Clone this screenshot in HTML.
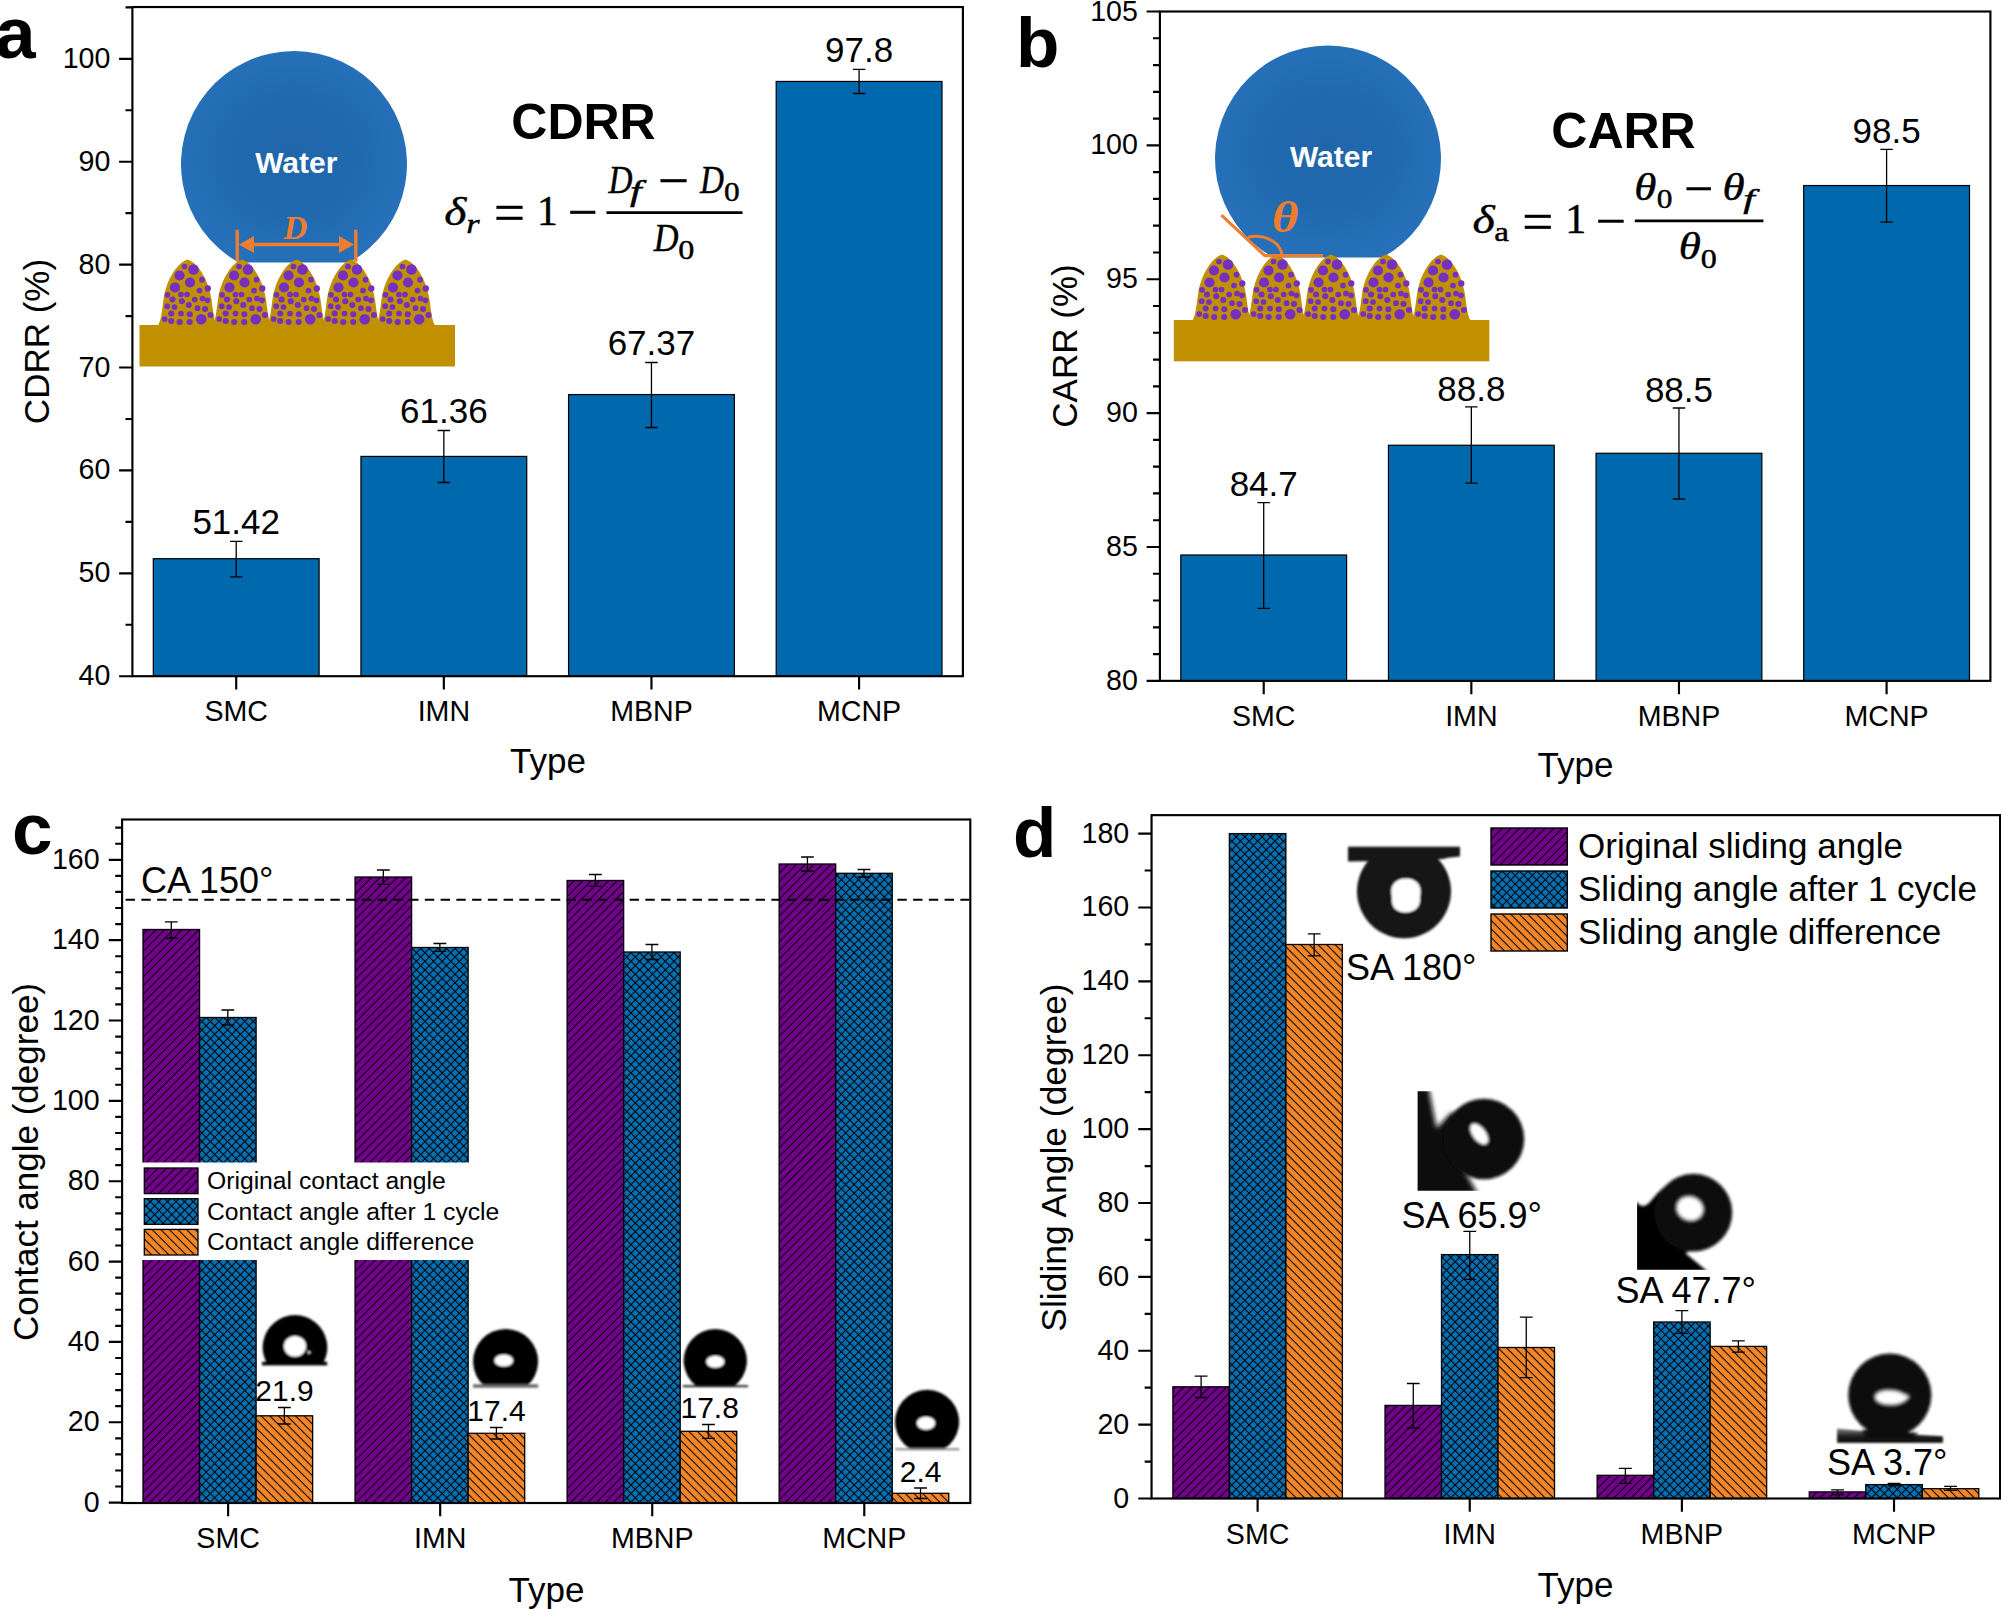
<!DOCTYPE html>
<html lang="en"><head><meta charset="utf-8"><title>Figure</title><style>html,body{margin:0;padding:0;background:#fff}svg{display:block}</style></head><body><svg width="2001" height="1609" viewBox="0 0 2001 1609"><rect width="2001" height="1609" fill="#fff"/><defs>
<pattern id="hp" width="6.07" height="6.07" patternUnits="userSpaceOnUse" patternTransform="rotate(45)"><rect width="6.07" height="6.07" fill="#71018A"/><path d="M3 0V6.07" stroke="#000" stroke-width="1.05"/></pattern>
<pattern id="hb" width="6.07" height="6.07" patternUnits="userSpaceOnUse" patternTransform="rotate(45)"><rect width="6.07" height="6.07" fill="#0471B4"/><path d="M3 0V6.07M0 3H6.07" stroke="#000" stroke-width="1.05"/></pattern>
<pattern id="ho" width="6.07" height="6.07" patternUnits="userSpaceOnUse" patternTransform="rotate(-45)"><rect width="6.07" height="6.07" fill="#F38628"/><path d="M3 0V6.07" stroke="#000" stroke-width="1.05"/></pattern>
<radialGradient id="wg" cx="50%" cy="50%" r="50%"><stop offset="0" stop-color="#1F65AA"/><stop offset="0.6" stop-color="#216AB0"/><stop offset="1" stop-color="#2570B8"/></radialGradient>
<filter id="b1" x="-20%" y="-20%" width="140%" height="140%"><feGaussianBlur stdDeviation="0.8"/></filter>
<filter id="b2" x="-20%" y="-20%" width="140%" height="140%"><feGaussianBlur stdDeviation="1.6"/></filter>
<filter id="b3" x="-20%" y="-20%" width="140%" height="140%"><feGaussianBlur stdDeviation="2.4"/></filter>
</defs>
<g font-family="'Liberation Sans', sans-serif" fill="#000">
<rect x="153.31" y="558.69" width="165.8" height="117.51" fill="#0068AD" stroke="#000" stroke-width="1.2"/>
<rect x="360.94" y="456.41" width="165.8" height="219.79" fill="#0068AD" stroke="#000" stroke-width="1.2"/>
<rect x="568.56" y="394.56" width="165.8" height="281.64" fill="#0068AD" stroke="#000" stroke-width="1.2"/>
<rect x="776.19" y="81.44" width="165.8" height="594.76" fill="#0068AD" stroke="#000" stroke-width="1.2"/>
<path d="M236.21 541.3V576.8M229.96 541.3H242.46M229.96 576.8H242.46" stroke="#000" stroke-width="1.3" fill="none"/>
<path d="M443.84 430.5V482.5M437.59 430.5H450.09M437.59 482.5H450.09" stroke="#000" stroke-width="1.3" fill="none"/>
<path d="M651.46 362.5V427.5M645.21 362.5H657.71M645.21 427.5H657.71" stroke="#000" stroke-width="1.3" fill="none"/>
<path d="M859.09 69.3V93.5M852.84 69.3H865.34M852.84 93.5H865.34" stroke="#000" stroke-width="1.3" fill="none"/>
<text x="236.21" y="534.3" font-size="35" text-anchor="middle">51.42</text>
<text x="443.84" y="423.3" font-size="35" text-anchor="middle">61.36</text>
<text x="651.46" y="355" font-size="35" text-anchor="middle">67.37</text>
<text x="859.09" y="61.5" font-size="35" text-anchor="middle">97.8</text>
<rect x="132.4" y="7.05" width="830.5" height="669.15" fill="none" stroke="#000" stroke-width="2.15"/>
<path d="M119.1 676.2H132.4M119.1 573.3H132.4M119.1 470.4H132.4M119.1 367.5H132.4M119.1 264.6H132.4M119.1 161.7H132.4M119.1 58.8H132.4M125.5 624.75H132.4M125.5 521.85H132.4M125.5 418.95H132.4M125.5 316.05H132.4M125.5 213.15H132.4M125.5 110.25H132.4M125.5 7.35H132.4M236.21 676.2V689.5M443.84 676.2V689.5M651.46 676.2V689.5M859.09 676.2V689.5" stroke="#000" stroke-width="2.15" fill="none"/>
<text x="110.4" y="685.2" font-size="28.6" text-anchor="end">40</text>
<text x="110.4" y="582.3" font-size="28.6" text-anchor="end">50</text>
<text x="110.4" y="479.4" font-size="28.6" text-anchor="end">60</text>
<text x="110.4" y="376.5" font-size="28.6" text-anchor="end">70</text>
<text x="110.4" y="273.6" font-size="28.6" text-anchor="end">80</text>
<text x="110.4" y="170.7" font-size="28.6" text-anchor="end">90</text>
<text x="110.4" y="67.8" font-size="28.6" text-anchor="end">100</text>
<text x="236.21" y="721.2" font-size="28.6" text-anchor="middle">SMC</text>
<text x="443.84" y="721.2" font-size="28.6" text-anchor="middle">IMN</text>
<text x="651.46" y="721.2" font-size="28.6" text-anchor="middle">MBNP</text>
<text x="859.09" y="721.2" font-size="28.6" text-anchor="middle">MCNP</text>
<text x="548" y="772.5" font-size="35" text-anchor="middle">Type</text>
<text transform="translate(48.8 341.5) rotate(-90)" font-size="35" text-anchor="middle">CDRR (%)</text>
<text x="-5" y="58.3" font-size="73" font-weight="bold">a</text>
<text x="583.5" y="138.5" font-size="50" text-anchor="middle" font-weight="bold">CDRR</text>
<path d="M238.62 262.5A113 113 0 1 1 349.38 262.5Z" fill="url(#wg)"/>
<rect x="139.5" y="325" width="315.5" height="41.5" fill="#C09000"/>
<g transform="translate(187.5 259.5)"><path d="M-29.5 66C-26 60 -25.5 50 -24 40C-21.2 20 -10 3 0 0C10 3 21.2 20 24 40C25.5 50 26 60 29.5 66Z" fill="#C09000"/><g fill="#7530C0"><circle cx="-3" cy="7" r="2.85"/><circle cx="6" cy="10" r="5.3"/><circle cx="-8" cy="16" r="5.1"/><circle cx="2.5" cy="23" r="5.1"/><circle cx="14.5" cy="20.2" r="2.85"/><circle cx="-12.5" cy="28" r="5.1"/><circle cx="12" cy="31" r="2.85"/><circle cx="20.3" cy="29" r="3.15"/><circle cx="-20" cy="35.3" r="2.85"/><circle cx="-6.5" cy="35" r="2.85"/><circle cx="-0.5" cy="35" r="2.85"/><circle cx="-15" cy="40" r="3.05"/><circle cx="-5.7" cy="41.7" r="3.05"/><circle cx="7.2" cy="40" r="2.85"/><circle cx="15" cy="39" r="2.85"/><circle cx="20" cy="40.8" r="2.85"/><circle cx="-20.3" cy="46.7" r="2.85"/><circle cx="-13" cy="47.5" r="2.85"/><circle cx="1.3" cy="45.5" r="3.05"/><circle cx="10" cy="48.7" r="2.85"/><circle cx="17.5" cy="49.5" r="3.05"/><circle cx="-16.3" cy="54" r="3.05"/><circle cx="-6.5" cy="54" r="2.85"/><circle cx="2.3" cy="54.7" r="3.05"/><circle cx="23" cy="55.5" r="3.05"/><circle cx="-22.8" cy="59.5" r="2.85"/><circle cx="-16.3" cy="61.5" r="3.05"/><circle cx="-7.8" cy="62.5" r="3.05"/><circle cx="2.2" cy="62.5" r="3.05"/><circle cx="13.7" cy="59.8" r="5.3"/></g></g>
<g transform="translate(242 259.5)"><path d="M-29.5 66C-26 60 -25.5 50 -24 40C-21.2 20 -10 3 0 0C10 3 21.2 20 24 40C25.5 50 26 60 29.5 66Z" fill="#C09000"/><g fill="#7530C0"><circle cx="-3" cy="7" r="2.85"/><circle cx="6" cy="10" r="5.3"/><circle cx="-8" cy="16" r="5.1"/><circle cx="2.5" cy="23" r="5.1"/><circle cx="14.5" cy="20.2" r="2.85"/><circle cx="-12.5" cy="28" r="5.1"/><circle cx="12" cy="31" r="2.85"/><circle cx="20.3" cy="29" r="3.15"/><circle cx="-20" cy="35.3" r="2.85"/><circle cx="-6.5" cy="35" r="2.85"/><circle cx="-0.5" cy="35" r="2.85"/><circle cx="-15" cy="40" r="3.05"/><circle cx="-5.7" cy="41.7" r="3.05"/><circle cx="7.2" cy="40" r="2.85"/><circle cx="15" cy="39" r="2.85"/><circle cx="20" cy="40.8" r="2.85"/><circle cx="-20.3" cy="46.7" r="2.85"/><circle cx="-13" cy="47.5" r="2.85"/><circle cx="1.3" cy="45.5" r="3.05"/><circle cx="10" cy="48.7" r="2.85"/><circle cx="17.5" cy="49.5" r="3.05"/><circle cx="-16.3" cy="54" r="3.05"/><circle cx="-6.5" cy="54" r="2.85"/><circle cx="2.3" cy="54.7" r="3.05"/><circle cx="23" cy="55.5" r="3.05"/><circle cx="-22.8" cy="59.5" r="2.85"/><circle cx="-16.3" cy="61.5" r="3.05"/><circle cx="-7.8" cy="62.5" r="3.05"/><circle cx="2.2" cy="62.5" r="3.05"/><circle cx="13.7" cy="59.8" r="5.3"/></g></g>
<g transform="translate(296.5 259.5)"><path d="M-29.5 66C-26 60 -25.5 50 -24 40C-21.2 20 -10 3 0 0C10 3 21.2 20 24 40C25.5 50 26 60 29.5 66Z" fill="#C09000"/><g fill="#7530C0"><circle cx="-3" cy="7" r="2.85"/><circle cx="6" cy="10" r="5.3"/><circle cx="-8" cy="16" r="5.1"/><circle cx="2.5" cy="23" r="5.1"/><circle cx="14.5" cy="20.2" r="2.85"/><circle cx="-12.5" cy="28" r="5.1"/><circle cx="12" cy="31" r="2.85"/><circle cx="20.3" cy="29" r="3.15"/><circle cx="-20" cy="35.3" r="2.85"/><circle cx="-6.5" cy="35" r="2.85"/><circle cx="-0.5" cy="35" r="2.85"/><circle cx="-15" cy="40" r="3.05"/><circle cx="-5.7" cy="41.7" r="3.05"/><circle cx="7.2" cy="40" r="2.85"/><circle cx="15" cy="39" r="2.85"/><circle cx="20" cy="40.8" r="2.85"/><circle cx="-20.3" cy="46.7" r="2.85"/><circle cx="-13" cy="47.5" r="2.85"/><circle cx="1.3" cy="45.5" r="3.05"/><circle cx="10" cy="48.7" r="2.85"/><circle cx="17.5" cy="49.5" r="3.05"/><circle cx="-16.3" cy="54" r="3.05"/><circle cx="-6.5" cy="54" r="2.85"/><circle cx="2.3" cy="54.7" r="3.05"/><circle cx="23" cy="55.5" r="3.05"/><circle cx="-22.8" cy="59.5" r="2.85"/><circle cx="-16.3" cy="61.5" r="3.05"/><circle cx="-7.8" cy="62.5" r="3.05"/><circle cx="2.2" cy="62.5" r="3.05"/><circle cx="13.7" cy="59.8" r="5.3"/></g></g>
<g transform="translate(351 259.5)"><path d="M-29.5 66C-26 60 -25.5 50 -24 40C-21.2 20 -10 3 0 0C10 3 21.2 20 24 40C25.5 50 26 60 29.5 66Z" fill="#C09000"/><g fill="#7530C0"><circle cx="-3" cy="7" r="2.85"/><circle cx="6" cy="10" r="5.3"/><circle cx="-8" cy="16" r="5.1"/><circle cx="2.5" cy="23" r="5.1"/><circle cx="14.5" cy="20.2" r="2.85"/><circle cx="-12.5" cy="28" r="5.1"/><circle cx="12" cy="31" r="2.85"/><circle cx="20.3" cy="29" r="3.15"/><circle cx="-20" cy="35.3" r="2.85"/><circle cx="-6.5" cy="35" r="2.85"/><circle cx="-0.5" cy="35" r="2.85"/><circle cx="-15" cy="40" r="3.05"/><circle cx="-5.7" cy="41.7" r="3.05"/><circle cx="7.2" cy="40" r="2.85"/><circle cx="15" cy="39" r="2.85"/><circle cx="20" cy="40.8" r="2.85"/><circle cx="-20.3" cy="46.7" r="2.85"/><circle cx="-13" cy="47.5" r="2.85"/><circle cx="1.3" cy="45.5" r="3.05"/><circle cx="10" cy="48.7" r="2.85"/><circle cx="17.5" cy="49.5" r="3.05"/><circle cx="-16.3" cy="54" r="3.05"/><circle cx="-6.5" cy="54" r="2.85"/><circle cx="2.3" cy="54.7" r="3.05"/><circle cx="23" cy="55.5" r="3.05"/><circle cx="-22.8" cy="59.5" r="2.85"/><circle cx="-16.3" cy="61.5" r="3.05"/><circle cx="-7.8" cy="62.5" r="3.05"/><circle cx="2.2" cy="62.5" r="3.05"/><circle cx="13.7" cy="59.8" r="5.3"/></g></g>
<g transform="translate(405.5 259.5)"><path d="M-29.5 66C-26 60 -25.5 50 -24 40C-21.2 20 -10 3 0 0C10 3 21.2 20 24 40C25.5 50 26 60 29.5 66Z" fill="#C09000"/><g fill="#7530C0"><circle cx="-3" cy="7" r="2.85"/><circle cx="6" cy="10" r="5.3"/><circle cx="-8" cy="16" r="5.1"/><circle cx="2.5" cy="23" r="5.1"/><circle cx="14.5" cy="20.2" r="2.85"/><circle cx="-12.5" cy="28" r="5.1"/><circle cx="12" cy="31" r="2.85"/><circle cx="20.3" cy="29" r="3.15"/><circle cx="-20" cy="35.3" r="2.85"/><circle cx="-6.5" cy="35" r="2.85"/><circle cx="-0.5" cy="35" r="2.85"/><circle cx="-15" cy="40" r="3.05"/><circle cx="-5.7" cy="41.7" r="3.05"/><circle cx="7.2" cy="40" r="2.85"/><circle cx="15" cy="39" r="2.85"/><circle cx="20" cy="40.8" r="2.85"/><circle cx="-20.3" cy="46.7" r="2.85"/><circle cx="-13" cy="47.5" r="2.85"/><circle cx="1.3" cy="45.5" r="3.05"/><circle cx="10" cy="48.7" r="2.85"/><circle cx="17.5" cy="49.5" r="3.05"/><circle cx="-16.3" cy="54" r="3.05"/><circle cx="-6.5" cy="54" r="2.85"/><circle cx="2.3" cy="54.7" r="3.05"/><circle cx="23" cy="55.5" r="3.05"/><circle cx="-22.8" cy="59.5" r="2.85"/><circle cx="-16.3" cy="61.5" r="3.05"/><circle cx="-7.8" cy="62.5" r="3.05"/><circle cx="2.2" cy="62.5" r="3.05"/><circle cx="13.7" cy="59.8" r="5.3"/></g></g>
<text x="296.3" y="173" font-size="30" text-anchor="middle" font-weight="bold" fill="#fff">Water</text>
<g stroke="#ED7D31" stroke-width="3.4" fill="none"><path d="M237.2 229.8V261.5M355.8 229.8V261.5M250 244.5H343"/></g>
<path d="M239 244.5L254 236V253ZM354 244.5L339 236V253Z" fill="#ED7D31"/>
<text x="295.5" y="238.5" font-size="33" text-anchor="middle" font-weight="bold" font-family="'Liberation Serif', serif" font-style="italic" fill="#ED7D31">D</text>
</g>
<g fill="#000" stroke="#000" stroke-width="0.45">
<text transform="translate(444.27 224.99) scale(1.156 1)" font-family="'Liberation Serif', serif" font-size="41.13" font-style="italic">δ</text>
<text transform="translate(466.13 232.5) scale(1.240 1)" font-family="'Liberation Serif', serif" font-size="27.66" font-style="italic">r</text>
<text transform="translate(494.06 231.2) scale(1.000 1)" font-family="'Liberation Serif', serif" font-size="54.84">=</text>
<text transform="translate(536.96 225) scale(1.012 1)" font-family="'Liberation Serif', serif" font-size="41.21">1</text>
<text transform="translate(567.54 230.23) scale(1.000 1)" font-family="'Liberation Serif', serif" font-size="53.12">−</text>
<line x1="606.5" y1="212.7" x2="742.5" y2="212.7" stroke="#000" stroke-width="2.7"/>
<text transform="translate(608.43 192.5) scale(0.836 1)" font-family="'Liberation Serif', serif" font-size="39.69" font-style="italic">D</text>
<text transform="translate(629.98 200.73) scale(1.457 1)" font-family="'Liberation Serif', serif" font-size="28.7" font-style="italic">f</text>
<text transform="translate(658.16 198.6) scale(1.000 1)" font-family="'Liberation Serif', serif" font-size="54.84">−</text>
<text transform="translate(699.93 192.5) scale(0.836 1)" font-family="'Liberation Serif', serif" font-size="39.69" font-style="italic">D</text>
<text transform="translate(723.94 200.82) scale(1.122 1)" font-family="'Liberation Serif', serif" font-size="28">0</text>
<text transform="translate(653.84 251.4) scale(0.858 1)" font-family="'Liberation Serif', serif" font-size="40" font-style="italic">D</text>
<text transform="translate(678.21 259.42) scale(1.142 1)" font-family="'Liberation Serif', serif" font-size="28.15">0</text>
</g>
<g font-family="'Liberation Sans', sans-serif" fill="#000">
<rect x="1180.81" y="555.01" width="165.8" height="125.84" fill="#0068AD" stroke="#000" stroke-width="1.2"/>
<rect x="1388.44" y="445.24" width="165.8" height="235.61" fill="#0068AD" stroke="#000" stroke-width="1.2"/>
<rect x="1596.06" y="453.27" width="165.8" height="227.58" fill="#0068AD" stroke="#000" stroke-width="1.2"/>
<rect x="1803.69" y="185.53" width="165.8" height="495.32" fill="#0068AD" stroke="#000" stroke-width="1.2"/>
<path d="M1263.71 502.7V608.4M1257.46 502.7H1269.96M1257.46 608.4H1269.96" stroke="#000" stroke-width="1.3" fill="none"/>
<path d="M1471.34 406.8V483.1M1465.09 406.8H1477.59M1465.09 483.1H1477.59" stroke="#000" stroke-width="1.3" fill="none"/>
<path d="M1678.96 408V499M1672.71 408H1685.21M1672.71 499H1685.21" stroke="#000" stroke-width="1.3" fill="none"/>
<path d="M1886.59 149.3V222.2M1880.34 149.3H1892.84M1880.34 222.2H1892.84" stroke="#000" stroke-width="1.3" fill="none"/>
<text x="1263.71" y="496" font-size="35" text-anchor="middle">84.7</text>
<text x="1471.34" y="400.5" font-size="35" text-anchor="middle">88.8</text>
<text x="1678.96" y="401.5" font-size="35" text-anchor="middle">88.5</text>
<text x="1886.59" y="143" font-size="35" text-anchor="middle">98.5</text>
<rect x="1159.9" y="11.5" width="830.5" height="669.35" fill="none" stroke="#000" stroke-width="2.15"/>
<path d="M1146.6 680.85H1159.9M1146.6 546.98H1159.9M1146.6 413.11H1159.9M1146.6 279.24H1159.9M1146.6 145.37H1159.9M1146.6 11.5H1159.9M1153 654.08H1159.9M1153 627.3H1159.9M1153 600.53H1159.9M1153 573.75H1159.9M1153 520.21H1159.9M1153 493.43H1159.9M1153 466.66H1159.9M1153 439.88H1159.9M1153 386.34H1159.9M1153 359.56H1159.9M1153 332.79H1159.9M1153 306.01H1159.9M1153 252.47H1159.9M1153 225.69H1159.9M1153 198.92H1159.9M1153 172.14H1159.9M1153 118.6H1159.9M1153 91.82H1159.9M1153 65.05H1159.9M1153 38.27H1159.9M1263.71 680.85V694.15M1471.34 680.85V694.15M1678.96 680.85V694.15M1886.59 680.85V694.15" stroke="#000" stroke-width="2.15" fill="none"/>
<text x="1137.9" y="689.85" font-size="28.6" text-anchor="end">80</text>
<text x="1137.9" y="555.98" font-size="28.6" text-anchor="end">85</text>
<text x="1137.9" y="422.11" font-size="28.6" text-anchor="end">90</text>
<text x="1137.9" y="288.24" font-size="28.6" text-anchor="end">95</text>
<text x="1137.9" y="154.37" font-size="28.6" text-anchor="end">100</text>
<text x="1137.9" y="20.5" font-size="28.6" text-anchor="end">105</text>
<text x="1263.71" y="725.85" font-size="28.6" text-anchor="middle">SMC</text>
<text x="1471.34" y="725.85" font-size="28.6" text-anchor="middle">IMN</text>
<text x="1678.96" y="725.85" font-size="28.6" text-anchor="middle">MBNP</text>
<text x="1886.59" y="725.85" font-size="28.6" text-anchor="middle">MCNP</text>
<text x="1575.5" y="777" font-size="35" text-anchor="middle">Type</text>
<text transform="translate(1076.7 346) rotate(-90)" font-size="35" text-anchor="middle">CARR (%)</text>
<text x="1016" y="67" font-size="71" font-weight="bold">b</text>
<text x="1623.5" y="147.8" font-size="50" text-anchor="middle" font-weight="bold">CARR</text>
<path d="M1273.52 257.5A113 113 0 1 1 1382.48 257.5Z" fill="url(#wg)"/>
<rect x="1173.8" y="320" width="315.5" height="41.3" fill="#C09000"/>
<g transform="translate(1222 254.5)"><path d="M-29.5 66C-26 60 -25.5 50 -24 40C-21.2 20 -10 3 0 0C10 3 21.2 20 24 40C25.5 50 26 60 29.5 66Z" fill="#C09000"/><g fill="#7530C0"><circle cx="-3" cy="7" r="2.85"/><circle cx="6" cy="10" r="5.3"/><circle cx="-8" cy="16" r="5.1"/><circle cx="2.5" cy="23" r="5.1"/><circle cx="14.5" cy="20.2" r="2.85"/><circle cx="-12.5" cy="28" r="5.1"/><circle cx="12" cy="31" r="2.85"/><circle cx="20.3" cy="29" r="3.15"/><circle cx="-20" cy="35.3" r="2.85"/><circle cx="-6.5" cy="35" r="2.85"/><circle cx="-0.5" cy="35" r="2.85"/><circle cx="-15" cy="40" r="3.05"/><circle cx="-5.7" cy="41.7" r="3.05"/><circle cx="7.2" cy="40" r="2.85"/><circle cx="15" cy="39" r="2.85"/><circle cx="20" cy="40.8" r="2.85"/><circle cx="-20.3" cy="46.7" r="2.85"/><circle cx="-13" cy="47.5" r="2.85"/><circle cx="1.3" cy="45.5" r="3.05"/><circle cx="10" cy="48.7" r="2.85"/><circle cx="17.5" cy="49.5" r="3.05"/><circle cx="-16.3" cy="54" r="3.05"/><circle cx="-6.5" cy="54" r="2.85"/><circle cx="2.3" cy="54.7" r="3.05"/><circle cx="23" cy="55.5" r="3.05"/><circle cx="-22.8" cy="59.5" r="2.85"/><circle cx="-16.3" cy="61.5" r="3.05"/><circle cx="-7.8" cy="62.5" r="3.05"/><circle cx="2.2" cy="62.5" r="3.05"/><circle cx="13.7" cy="59.8" r="5.3"/></g></g>
<g transform="translate(1276.5 254.5)"><path d="M-29.5 66C-26 60 -25.5 50 -24 40C-21.2 20 -10 3 0 0C10 3 21.2 20 24 40C25.5 50 26 60 29.5 66Z" fill="#C09000"/><g fill="#7530C0"><circle cx="-3" cy="7" r="2.85"/><circle cx="6" cy="10" r="5.3"/><circle cx="-8" cy="16" r="5.1"/><circle cx="2.5" cy="23" r="5.1"/><circle cx="14.5" cy="20.2" r="2.85"/><circle cx="-12.5" cy="28" r="5.1"/><circle cx="12" cy="31" r="2.85"/><circle cx="20.3" cy="29" r="3.15"/><circle cx="-20" cy="35.3" r="2.85"/><circle cx="-6.5" cy="35" r="2.85"/><circle cx="-0.5" cy="35" r="2.85"/><circle cx="-15" cy="40" r="3.05"/><circle cx="-5.7" cy="41.7" r="3.05"/><circle cx="7.2" cy="40" r="2.85"/><circle cx="15" cy="39" r="2.85"/><circle cx="20" cy="40.8" r="2.85"/><circle cx="-20.3" cy="46.7" r="2.85"/><circle cx="-13" cy="47.5" r="2.85"/><circle cx="1.3" cy="45.5" r="3.05"/><circle cx="10" cy="48.7" r="2.85"/><circle cx="17.5" cy="49.5" r="3.05"/><circle cx="-16.3" cy="54" r="3.05"/><circle cx="-6.5" cy="54" r="2.85"/><circle cx="2.3" cy="54.7" r="3.05"/><circle cx="23" cy="55.5" r="3.05"/><circle cx="-22.8" cy="59.5" r="2.85"/><circle cx="-16.3" cy="61.5" r="3.05"/><circle cx="-7.8" cy="62.5" r="3.05"/><circle cx="2.2" cy="62.5" r="3.05"/><circle cx="13.7" cy="59.8" r="5.3"/></g></g>
<g transform="translate(1331 254.5)"><path d="M-29.5 66C-26 60 -25.5 50 -24 40C-21.2 20 -10 3 0 0C10 3 21.2 20 24 40C25.5 50 26 60 29.5 66Z" fill="#C09000"/><g fill="#7530C0"><circle cx="-3" cy="7" r="2.85"/><circle cx="6" cy="10" r="5.3"/><circle cx="-8" cy="16" r="5.1"/><circle cx="2.5" cy="23" r="5.1"/><circle cx="14.5" cy="20.2" r="2.85"/><circle cx="-12.5" cy="28" r="5.1"/><circle cx="12" cy="31" r="2.85"/><circle cx="20.3" cy="29" r="3.15"/><circle cx="-20" cy="35.3" r="2.85"/><circle cx="-6.5" cy="35" r="2.85"/><circle cx="-0.5" cy="35" r="2.85"/><circle cx="-15" cy="40" r="3.05"/><circle cx="-5.7" cy="41.7" r="3.05"/><circle cx="7.2" cy="40" r="2.85"/><circle cx="15" cy="39" r="2.85"/><circle cx="20" cy="40.8" r="2.85"/><circle cx="-20.3" cy="46.7" r="2.85"/><circle cx="-13" cy="47.5" r="2.85"/><circle cx="1.3" cy="45.5" r="3.05"/><circle cx="10" cy="48.7" r="2.85"/><circle cx="17.5" cy="49.5" r="3.05"/><circle cx="-16.3" cy="54" r="3.05"/><circle cx="-6.5" cy="54" r="2.85"/><circle cx="2.3" cy="54.7" r="3.05"/><circle cx="23" cy="55.5" r="3.05"/><circle cx="-22.8" cy="59.5" r="2.85"/><circle cx="-16.3" cy="61.5" r="3.05"/><circle cx="-7.8" cy="62.5" r="3.05"/><circle cx="2.2" cy="62.5" r="3.05"/><circle cx="13.7" cy="59.8" r="5.3"/></g></g>
<g transform="translate(1386 254.5)"><path d="M-29.5 66C-26 60 -25.5 50 -24 40C-21.2 20 -10 3 0 0C10 3 21.2 20 24 40C25.5 50 26 60 29.5 66Z" fill="#C09000"/><g fill="#7530C0"><circle cx="-3" cy="7" r="2.85"/><circle cx="6" cy="10" r="5.3"/><circle cx="-8" cy="16" r="5.1"/><circle cx="2.5" cy="23" r="5.1"/><circle cx="14.5" cy="20.2" r="2.85"/><circle cx="-12.5" cy="28" r="5.1"/><circle cx="12" cy="31" r="2.85"/><circle cx="20.3" cy="29" r="3.15"/><circle cx="-20" cy="35.3" r="2.85"/><circle cx="-6.5" cy="35" r="2.85"/><circle cx="-0.5" cy="35" r="2.85"/><circle cx="-15" cy="40" r="3.05"/><circle cx="-5.7" cy="41.7" r="3.05"/><circle cx="7.2" cy="40" r="2.85"/><circle cx="15" cy="39" r="2.85"/><circle cx="20" cy="40.8" r="2.85"/><circle cx="-20.3" cy="46.7" r="2.85"/><circle cx="-13" cy="47.5" r="2.85"/><circle cx="1.3" cy="45.5" r="3.05"/><circle cx="10" cy="48.7" r="2.85"/><circle cx="17.5" cy="49.5" r="3.05"/><circle cx="-16.3" cy="54" r="3.05"/><circle cx="-6.5" cy="54" r="2.85"/><circle cx="2.3" cy="54.7" r="3.05"/><circle cx="23" cy="55.5" r="3.05"/><circle cx="-22.8" cy="59.5" r="2.85"/><circle cx="-16.3" cy="61.5" r="3.05"/><circle cx="-7.8" cy="62.5" r="3.05"/><circle cx="2.2" cy="62.5" r="3.05"/><circle cx="13.7" cy="59.8" r="5.3"/></g></g>
<g transform="translate(1441 254.5)"><path d="M-29.5 66C-26 60 -25.5 50 -24 40C-21.2 20 -10 3 0 0C10 3 21.2 20 24 40C25.5 50 26 60 29.5 66Z" fill="#C09000"/><g fill="#7530C0"><circle cx="-3" cy="7" r="2.85"/><circle cx="6" cy="10" r="5.3"/><circle cx="-8" cy="16" r="5.1"/><circle cx="2.5" cy="23" r="5.1"/><circle cx="14.5" cy="20.2" r="2.85"/><circle cx="-12.5" cy="28" r="5.1"/><circle cx="12" cy="31" r="2.85"/><circle cx="20.3" cy="29" r="3.15"/><circle cx="-20" cy="35.3" r="2.85"/><circle cx="-6.5" cy="35" r="2.85"/><circle cx="-0.5" cy="35" r="2.85"/><circle cx="-15" cy="40" r="3.05"/><circle cx="-5.7" cy="41.7" r="3.05"/><circle cx="7.2" cy="40" r="2.85"/><circle cx="15" cy="39" r="2.85"/><circle cx="20" cy="40.8" r="2.85"/><circle cx="-20.3" cy="46.7" r="2.85"/><circle cx="-13" cy="47.5" r="2.85"/><circle cx="1.3" cy="45.5" r="3.05"/><circle cx="10" cy="48.7" r="2.85"/><circle cx="17.5" cy="49.5" r="3.05"/><circle cx="-16.3" cy="54" r="3.05"/><circle cx="-6.5" cy="54" r="2.85"/><circle cx="2.3" cy="54.7" r="3.05"/><circle cx="23" cy="55.5" r="3.05"/><circle cx="-22.8" cy="59.5" r="2.85"/><circle cx="-16.3" cy="61.5" r="3.05"/><circle cx="-7.8" cy="62.5" r="3.05"/><circle cx="2.2" cy="62.5" r="3.05"/><circle cx="13.7" cy="59.8" r="5.3"/></g></g>
<text x="1331" y="167" font-size="30" text-anchor="middle" font-weight="bold" fill="#fff">Water</text>
<g stroke="#ED7D31" stroke-width="3.2" fill="none"><path d="M1221.4 215.1L1264.8 255.6H1323" stroke-linejoin="miter"/><path d="M1248 237.2C1264 233.5 1280.5 242 1282 255" stroke-width="3"/></g>
</g>
<text transform="translate(1272.02 232.06) scale(1.156 1)" font-family="'Liberation Serif', serif" font-size="44.08" font-style="italic" font-weight="bold" fill="#ED7D31">θ</text>
<g fill="#000" stroke="#000" stroke-width="0.45">
<text transform="translate(1472.57 232.5) scale(1.190 1)" font-family="'Liberation Serif', serif" font-size="40.14" font-style="italic">δ</text>
<text transform="translate(1494.34 240.62) scale(1.171 1)" font-family="'Liberation Serif', serif" font-size="28.33">a</text>
<text transform="translate(1522.35 239.77) scale(1.000 1)" font-family="'Liberation Serif', serif" font-size="55.05">=</text>
<text transform="translate(1565.23 232.5) scale(1.015 1)" font-family="'Liberation Serif', serif" font-size="41.36">1</text>
<text transform="translate(1595.5 238.71) scale(1.000 1)" font-family="'Liberation Serif', serif" font-size="53.98">−</text>
<line x1="1634.8" y1="220.9" x2="1763.4" y2="220.9" stroke="#000" stroke-width="2.7"/>
<text transform="translate(1634.25 200.21) scale(1.162 1)" font-family="'Liberation Serif', serif" font-size="38.73" font-style="italic">θ</text>
<text transform="translate(1656.64 208.22) scale(1.122 1)" font-family="'Liberation Serif', serif" font-size="28">0</text>
<text transform="translate(1684.12 205.83) scale(1.000 1)" font-family="'Liberation Serif', serif" font-size="51.61">−</text>
<text transform="translate(1722.45 200.21) scale(1.162 1)" font-family="'Liberation Serif', serif" font-size="38.73" font-style="italic">θ</text>
<text transform="translate(1743.18 208.34) scale(1.499 1)" font-family="'Liberation Serif', serif" font-size="27.72" font-style="italic">f</text>
<text transform="translate(1678.75 258.71) scale(1.162 1)" font-family="'Liberation Serif', serif" font-size="38.73" font-style="italic">θ</text>
<text transform="translate(1700.81 267.62) scale(1.142 1)" font-family="'Liberation Serif', serif" font-size="28.15">0</text>
</g>
<g font-family="'Liberation Sans', sans-serif" fill="#000">
<rect x="143" y="929.5" width="56.55" height="573.5" fill="url(#hp)" stroke="#000" stroke-width="1.3"/>
<rect x="199.55" y="1017.5" width="56.55" height="485.5" fill="url(#hb)" stroke="#000" stroke-width="1.3"/>
<rect x="256.1" y="1415.8" width="56.55" height="87.2" fill="url(#ho)" stroke="#000" stroke-width="1.3"/>
<rect x="355.05" y="877" width="56.55" height="626" fill="url(#hp)" stroke="#000" stroke-width="1.3"/>
<rect x="411.6" y="947.5" width="56.55" height="555.5" fill="url(#hb)" stroke="#000" stroke-width="1.3"/>
<rect x="468.15" y="1433.3" width="56.55" height="69.7" fill="url(#ho)" stroke="#000" stroke-width="1.3"/>
<rect x="567.1" y="880.5" width="56.55" height="622.5" fill="url(#hp)" stroke="#000" stroke-width="1.3"/>
<rect x="623.65" y="952" width="56.55" height="551" fill="url(#hb)" stroke="#000" stroke-width="1.3"/>
<rect x="680.2" y="1431.3" width="56.55" height="71.7" fill="url(#ho)" stroke="#000" stroke-width="1.3"/>
<rect x="779.15" y="864" width="56.55" height="639" fill="url(#hp)" stroke="#000" stroke-width="1.3"/>
<rect x="835.7" y="873.3" width="56.55" height="629.7" fill="url(#hb)" stroke="#000" stroke-width="1.3"/>
<rect x="892.25" y="1493.3" width="56.55" height="9.7" fill="url(#ho)" stroke="#000" stroke-width="1.3"/>
<line x1="125.6" y1="899.8" x2="969" y2="899.8" stroke="#000" stroke-width="2.1" stroke-dasharray="9.4 6.35"/>
<path d="M171.27 921.8V938M164.87 921.8H177.67M164.87 938H177.67" stroke="#000" stroke-width="1.3" fill="none"/>
<path d="M227.82 1010V1025M221.42 1010H234.22M221.42 1025H234.22" stroke="#000" stroke-width="1.3" fill="none"/>
<path d="M284.38 1407.5V1424M277.98 1407.5H290.77M277.98 1424H290.77" stroke="#000" stroke-width="1.3" fill="none"/>
<path d="M383.32 870V884.3M376.92 870H389.72M376.92 884.3H389.72" stroke="#000" stroke-width="1.3" fill="none"/>
<path d="M439.87 943.5V951.3M433.47 943.5H446.27M433.47 951.3H446.27" stroke="#000" stroke-width="1.3" fill="none"/>
<path d="M496.42 1427.5V1439M490.02 1427.5H502.82M490.02 1439H502.82" stroke="#000" stroke-width="1.3" fill="none"/>
<path d="M595.38 874.5V886.3M588.98 874.5H601.78M588.98 886.3H601.78" stroke="#000" stroke-width="1.3" fill="none"/>
<path d="M651.93 944.5V959.5M645.53 944.5H658.33M645.53 959.5H658.33" stroke="#000" stroke-width="1.3" fill="none"/>
<path d="M708.48 1424.5V1438.3M702.08 1424.5H714.88M702.08 1438.3H714.88" stroke="#000" stroke-width="1.3" fill="none"/>
<path d="M807.43 857V871M801.03 857H813.83M801.03 871H813.83" stroke="#000" stroke-width="1.3" fill="none"/>
<path d="M863.98 869.5V877M857.58 869.5H870.38M857.58 877H870.38" stroke="#000" stroke-width="1.3" fill="none"/>
<path d="M920.53 1488V1498.5M914.13 1488H926.93M914.13 1498.5H926.93" stroke="#000" stroke-width="1.3" fill="none"/>
<rect x="138" y="1162.5" width="372" height="97.5" fill="#fff"/>
<rect x="144.3" y="1168" width="53.7" height="25.6" fill="url(#hp)" stroke="#000" stroke-width="1.3"/>
<text x="207" y="1188.8" font-size="24.7">Original contact angle</text>
<rect x="144.3" y="1198.7" width="53.7" height="25.6" fill="url(#hb)" stroke="#000" stroke-width="1.3"/>
<text x="207" y="1219.5" font-size="24.7">Contact angle after 1 cycle</text>
<rect x="144.3" y="1229.4" width="53.7" height="25.6" fill="url(#ho)" stroke="#000" stroke-width="1.3"/>
<text x="207" y="1250.2" font-size="24.7">Contact angle difference</text>
<rect x="122.1" y="819.5" width="848.2" height="683.5" fill="none" stroke="#000" stroke-width="2.15"/>
<path d="M108.8 1502.6H122.1M108.8 1422.25H122.1M108.8 1341.9H122.1M108.8 1261.55H122.1M108.8 1181.2H122.1M108.8 1100.85H122.1M108.8 1020.5H122.1M108.8 940.15H122.1M108.8 859.8H122.1M115.2 1486.53H122.1M115.2 1470.46H122.1M115.2 1454.39H122.1M115.2 1438.32H122.1M115.2 1406.18H122.1M115.2 1390.11H122.1M115.2 1374.04H122.1M115.2 1357.97H122.1M115.2 1325.83H122.1M115.2 1309.76H122.1M115.2 1293.69H122.1M115.2 1277.62H122.1M115.2 1245.48H122.1M115.2 1229.41H122.1M115.2 1213.34H122.1M115.2 1197.27H122.1M115.2 1165.13H122.1M115.2 1149.06H122.1M115.2 1132.99H122.1M115.2 1116.92H122.1M115.2 1084.78H122.1M115.2 1068.71H122.1M115.2 1052.64H122.1M115.2 1036.57H122.1M115.2 1004.43H122.1M115.2 988.36H122.1M115.2 972.29H122.1M115.2 956.22H122.1M115.2 924.08H122.1M115.2 908.01H122.1M115.2 891.94H122.1M115.2 875.87H122.1M115.2 843.73H122.1M115.2 827.66H122.1M228.12 1503V1516.3M440.17 1503V1516.3M652.23 1503V1516.3M864.27 1503V1516.3" stroke="#000" stroke-width="2.15" fill="none"/>
<text x="99.6" y="1511.6" font-size="28.6" text-anchor="end">0</text>
<text x="99.6" y="1431.25" font-size="28.6" text-anchor="end">20</text>
<text x="99.6" y="1350.9" font-size="28.6" text-anchor="end">40</text>
<text x="99.6" y="1270.55" font-size="28.6" text-anchor="end">60</text>
<text x="99.6" y="1190.2" font-size="28.6" text-anchor="end">80</text>
<text x="99.6" y="1109.85" font-size="28.6" text-anchor="end">100</text>
<text x="99.6" y="1029.5" font-size="28.6" text-anchor="end">120</text>
<text x="99.6" y="949.15" font-size="28.6" text-anchor="end">140</text>
<text x="99.6" y="868.8" font-size="28.6" text-anchor="end">160</text>
<text x="228.12" y="1548" font-size="28.6" text-anchor="middle">SMC</text>
<text x="440.17" y="1548" font-size="28.6" text-anchor="middle">IMN</text>
<text x="652.23" y="1548" font-size="28.6" text-anchor="middle">MBNP</text>
<text x="864.27" y="1548" font-size="28.6" text-anchor="middle">MCNP</text>
<text x="546.5" y="1601.5" font-size="35" text-anchor="middle">Type</text>
<text transform="translate(38 1162) rotate(-90)" font-size="35" text-anchor="middle">Contact angle (degree)</text>
<text x="12" y="853.5" font-size="73" font-weight="bold">c</text>
<text x="141" y="893" font-size="36">CA 150°</text>
<text x="284.5" y="1400.8" font-size="30" text-anchor="middle">21.9</text>
<text x="496.5" y="1421" font-size="30" text-anchor="middle">17.4</text>
<text x="709.7" y="1417.5" font-size="30" text-anchor="middle">17.8</text>
<text x="920.6" y="1481.6" font-size="30" text-anchor="middle">2.4</text>
<g filter="url(#b1)">
<path d="M267.06 1363.6A32.3 32.3 0 1 1 322.94 1363.6Z" fill="#060606"/>
<rect x="262" y="1361.8" width="65.2" height="3.6" fill="#000"/>
<ellipse cx="295" cy="1346.3" rx="11" ry="10.4" fill="#fff"/>
</g>
<path d="M307.5 1349.5L312 1352.5L307.5 1355Z" fill="#ddd" filter="url(#b1)"/>
<g filter="url(#b1)">
<path d="M484.25 1386A32.5 32.5 0 1 1 526.95 1386Z" fill="#060606"/>
<rect x="473" y="1384.3" width="65.2" height="3.4" fill="#666"/>
<ellipse cx="503.8" cy="1360.6" rx="9.3" ry="6" fill="#fff"/>
</g>
<g filter="url(#b1)">
<path d="M696.64 1386.2A31.6 31.6 0 1 1 733.96 1386.2Z" fill="#060606"/>
<rect x="682.7" y="1385.2" width="65.3" height="2" fill="#222"/>
<ellipse cx="715.3" cy="1361.8" rx="9" ry="6" fill="#fff"/>
</g>
<g filter="url(#b1)">
<path d="M910.57 1449.2A32 32 0 1 1 943.63 1449.2Z" fill="#060606"/>
<rect x="895.2" y="1448.2" width="64.1" height="2" fill="#888"/>
<ellipse cx="926" cy="1423.2" rx="9" ry="6.5" fill="#fff"/>
</g>
</g>
<g font-family="'Liberation Sans', sans-serif" fill="#000">
<rect x="1172.87" y="1386.8" width="56.5" height="111.7" fill="url(#hp)" stroke="#000" stroke-width="1.3"/>
<rect x="1229.37" y="833.6" width="56.5" height="664.9" fill="url(#hb)" stroke="#000" stroke-width="1.3"/>
<rect x="1285.87" y="944.5" width="56.5" height="554" fill="url(#ho)" stroke="#000" stroke-width="1.3"/>
<rect x="1385.01" y="1405.4" width="56.5" height="93.1" fill="url(#hp)" stroke="#000" stroke-width="1.3"/>
<rect x="1441.51" y="1254.6" width="56.5" height="243.9" fill="url(#hb)" stroke="#000" stroke-width="1.3"/>
<rect x="1498.01" y="1347.5" width="56.5" height="151" fill="url(#ho)" stroke="#000" stroke-width="1.3"/>
<rect x="1597.14" y="1475.3" width="56.5" height="23.2" fill="url(#hp)" stroke="#000" stroke-width="1.3"/>
<rect x="1653.64" y="1322" width="56.5" height="176.5" fill="url(#hb)" stroke="#000" stroke-width="1.3"/>
<rect x="1710.14" y="1346.4" width="56.5" height="152.1" fill="url(#ho)" stroke="#000" stroke-width="1.3"/>
<rect x="1809.28" y="1491.9" width="56.5" height="6.6" fill="url(#hp)" stroke="#000" stroke-width="1.3"/>
<rect x="1865.78" y="1484.6" width="56.5" height="13.9" fill="url(#hb)" stroke="#000" stroke-width="1.3"/>
<rect x="1922.28" y="1488.7" width="56.5" height="9.8" fill="url(#ho)" stroke="#000" stroke-width="1.3"/>
<path d="M1201.12 1376.2V1397.5M1194.72 1376.2H1207.52M1194.72 1397.5H1207.52" stroke="#000" stroke-width="1.3" fill="none"/>
<path d="M1314.12 933.8V955.8M1307.72 933.8H1320.52M1307.72 955.8H1320.52" stroke="#000" stroke-width="1.3" fill="none"/>
<path d="M1413.26 1383.5V1428M1406.86 1383.5H1419.66M1406.86 1428H1419.66" stroke="#000" stroke-width="1.3" fill="none"/>
<path d="M1469.76 1231.4V1279.4M1463.36 1231.4H1476.16M1463.36 1279.4H1476.16" stroke="#000" stroke-width="1.3" fill="none"/>
<path d="M1526.26 1317.1V1377.7M1519.86 1317.1H1532.66M1519.86 1377.7H1532.66" stroke="#000" stroke-width="1.3" fill="none"/>
<path d="M1625.39 1468.3V1483.4M1618.99 1468.3H1631.79M1618.99 1483.4H1631.79" stroke="#000" stroke-width="1.3" fill="none"/>
<path d="M1681.89 1310.6V1333.4M1675.49 1310.6H1688.29M1675.49 1333.4H1688.29" stroke="#000" stroke-width="1.3" fill="none"/>
<path d="M1738.39 1340.9V1352.2M1731.99 1340.9H1744.79M1731.99 1352.2H1744.79" stroke="#000" stroke-width="1.3" fill="none"/>
<path d="M1837.53 1489.9V1494.6M1831.13 1489.9H1843.93M1831.13 1494.6H1843.93" stroke="#000" stroke-width="1.3" fill="none"/>
<path d="M1894.03 1483.4V1485.8M1887.63 1483.4H1900.43M1887.63 1485.8H1900.43" stroke="#000" stroke-width="1.3" fill="none"/>
<path d="M1950.53 1486.4V1490.4M1944.13 1486.4H1956.93M1944.13 1490.4H1956.93" stroke="#000" stroke-width="1.3" fill="none"/>
<rect x="1491" y="828" width="76.3" height="37" fill="url(#hp)" stroke="#000" stroke-width="1.4"/>
<text x="1578" y="857.8" font-size="35">Original sliding angle</text>
<rect x="1491" y="871" width="76.3" height="37" fill="url(#hb)" stroke="#000" stroke-width="1.4"/>
<text x="1578" y="900.8" font-size="35">Sliding angle after 1 cycle</text>
<rect x="1491" y="914" width="76.3" height="37" fill="url(#ho)" stroke="#000" stroke-width="1.4"/>
<text x="1578" y="943.8" font-size="35">Sliding angle difference</text>
<rect x="1151.55" y="815.15" width="848.55" height="683.35" fill="none" stroke="#000" stroke-width="2.15"/>
<path d="M1138.25 1498.5H1151.55M1138.25 1424.62H1151.55M1138.25 1350.74H1151.55M1138.25 1276.87H1151.55M1138.25 1202.99H1151.55M1138.25 1129.11H1151.55M1138.25 1055.23H1151.55M1138.25 981.35H1151.55M1138.25 907.48H1151.55M1138.25 833.6H1151.55M1144.65 1461.56H1151.55M1144.65 1387.68H1151.55M1144.65 1313.81H1151.55M1144.65 1239.93H1151.55M1144.65 1166.05H1151.55M1144.65 1092.17H1151.55M1144.65 1018.29H1151.55M1144.65 944.41H1151.55M1144.65 870.54H1151.55M1257.62 1498.5V1511.8M1469.76 1498.5V1511.8M1681.89 1498.5V1511.8M1894.03 1498.5V1511.8" stroke="#000" stroke-width="2.15" fill="none"/>
<text x="1129.25" y="1507.5" font-size="28.6" text-anchor="end">0</text>
<text x="1129.25" y="1433.62" font-size="28.6" text-anchor="end">20</text>
<text x="1129.25" y="1359.74" font-size="28.6" text-anchor="end">40</text>
<text x="1129.25" y="1285.87" font-size="28.6" text-anchor="end">60</text>
<text x="1129.25" y="1211.99" font-size="28.6" text-anchor="end">80</text>
<text x="1129.25" y="1138.11" font-size="28.6" text-anchor="end">100</text>
<text x="1129.25" y="1064.23" font-size="28.6" text-anchor="end">120</text>
<text x="1129.25" y="990.35" font-size="28.6" text-anchor="end">140</text>
<text x="1129.25" y="916.48" font-size="28.6" text-anchor="end">160</text>
<text x="1129.25" y="842.6" font-size="28.6" text-anchor="end">180</text>
<text x="1257.62" y="1543.5" font-size="28.6" text-anchor="middle">SMC</text>
<text x="1469.76" y="1543.5" font-size="28.6" text-anchor="middle">IMN</text>
<text x="1681.89" y="1543.5" font-size="28.6" text-anchor="middle">MBNP</text>
<text x="1894.03" y="1543.5" font-size="28.6" text-anchor="middle">MCNP</text>
<text x="1575.5" y="1596.8" font-size="35" text-anchor="middle">Type</text>
<text transform="translate(1066 1157.5) rotate(-90)" font-size="35.4" text-anchor="middle">Sliding Angle (degree)</text>
<text x="1013" y="857.3" font-size="71" font-weight="bold">d</text>
<g filter="url(#b1)">
<path d="M1348 846.8H1460V856.4C1452 857 1447 857.5 1443 859L1365 861.2L1348 861.6Z" fill="#161616"/>
<path d="M1381.6 850A47 47 0 1 0 1426.4 850Z" fill="#181818"/>
<path d="M1391.3 893C1390.5 884.5 1396.5 878.4 1406 878.4C1415.5 878.4 1421.3 884.5 1420.6 893C1420.3 896 1419.5 897 1420 900C1420 907.5 1414 912.4 1405.5 912.4C1397 912.4 1391.5 907.5 1392 900C1392.3 897 1391.6 896 1391.3 893Z" fill="#fff"/>
</g>
<clipPath id="cp2"><rect x="1417.6" y="1091.2" width="125" height="99.5"/></clipPath>
<g clip-path="url(#cp2)">
<path d="M1403 1078L1426.8 1078L1436.5 1128L1452 1112L1484 1139L1463.7 1168.5L1482 1202L1403 1202Z" fill="#080808" filter="url(#b3)"/>
<g filter="url(#b2)">
<circle cx="1483.9" cy="1139" r="40.3" fill="#0c0c0c"/>
<ellipse cx="1479.2" cy="1134" rx="6.3" ry="12" transform="rotate(-38 1479.2 1134)" fill="#fff"/>
</g></g>
<clipPath id="cp3"><rect x="1637.1" y="1165" width="110" height="104.8"/></clipPath>
<g clip-path="url(#cp3)"><g filter="url(#b2)">
<path d="M1625 1199L1637 1202.3Q1642.5 1210 1650 1202Q1656 1194 1664 1187L1693 1213L1698 1248L1685.2 1253L1716.5 1279L1625 1279Z" fill="#060606"/>
<circle cx="1693.4" cy="1212.6" r="38.8" fill="#0a0a0a"/>
<ellipse cx="1689.9" cy="1208.6" rx="13.6" ry="12" transform="rotate(20 1689.9 1208.6)" fill="#fff" filter="url(#b1)"/>
</g></g>
<linearGradient id="bg4" x1="0" y1="1428" x2="0" y2="1442" gradientUnits="userSpaceOnUse"><stop offset="0" stop-color="#8a8a8a"/><stop offset="0.55" stop-color="#222"/><stop offset="1" stop-color="#080808"/></linearGradient>
<path d="M1837.1 1428.5L1868 1431.5L1912 1434.5L1942.9 1436.3V1442.7H1837.1Z" fill="url(#bg4)" filter="url(#b1)"/>
<g filter="url(#b2)">
<circle cx="1889.8" cy="1395.1" r="41.6" fill="#0e0e0e"/>
<path d="M1862 1430L1918 1433L1912 1440L1866 1440Z" fill="#0c0c0c"/>
<path d="M1875 1396C1878 1388.8 1895 1389.3 1902 1393C1906 1395 1908 1395.6 1909.6 1396.2C1905 1402.8 1897 1405.3 1889 1404.8C1880 1404.3 1874.3 1401 1875 1396Z" fill="#fff" filter="url(#b1)"/>
</g>
<text x="1346" y="980" font-size="36">SA 180°</text>
<text x="1401.5" y="1228" font-size="36">SA 65.9°</text>
<text x="1615.5" y="1303" font-size="36">SA 47.7°</text>
<text x="1827" y="1475.3" font-size="36">SA 3.7°</text>
</g></svg></body></html>
